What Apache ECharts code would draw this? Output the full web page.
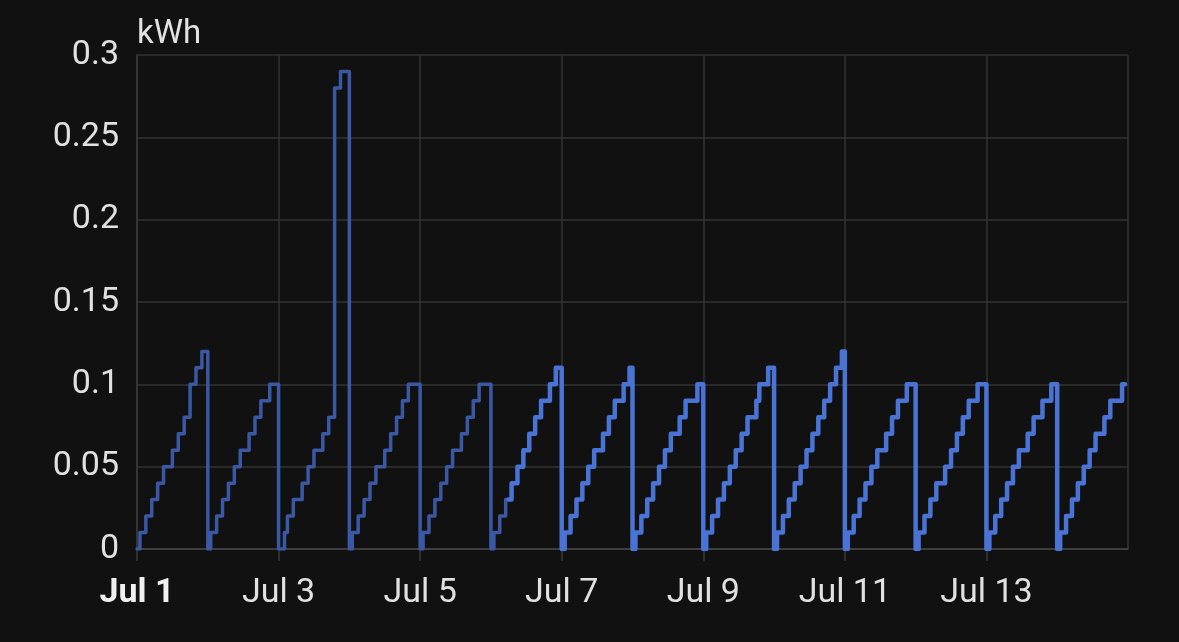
<!DOCTYPE html>
<html>
<head>
<meta charset="utf-8">
<script src="https://cdn.jsdelivr.net/npm/echarts@6/dist/echarts.min.js"></script>
<style>
  html, body { margin: 0; padding: 0; background: #111111; }
  #chart { width: 1179px; height: 642px; }
</style>
</head>
<body>
<div id="chart"></div>
<script>
// hourly cumulative energy per day (kWh), hour 0..23
var jul01 = [0, .01, .01, .02, .02, .03, .03, .04, .04, .05, .05, .05, .06, .06, .07, .07, .08, .08, .10, .10, .11, .11, .12, .12];
var jul02 = [0, .01, .01, .02, .02, .03, .03, .04, .04, .05, .05, .06, .06, .06, .07, .07, .08, .08, .09, .09, .09, .10, .10, .10];
var jul03 = [0, 0, .01, .02, .02, .03, .03, .03, .04, .04, .05, .05, .06, .06, .06, .07, .07, .08, .08, .28, .28, .29, .29, .29];
var jul04 = [0, .01, .01, .02, .02, .03, .03, .04, .04, .05, .05, .05, .06, .06, .07, .07, .08, .08, .09, .09, .10, .10, .10, .10];
var jul05 = [0, .01, .01, .02, .02, .03, .03, .04, .04, .05, .05, .06, .06, .06, .07, .07, .08, .08, .09, .09, .10, .10, .10, .10];
var jul06 = [0, .01, .01, .02, .02, .03, .03, .04, .04, .05, .05, .06, .06, .07, .07, .08, .08, .09, .09, .09, .10, .10, .11, .11];
var jul07 = [0, .01, .01, .02, .02, .03, .03, .04, .04, .05, .05, .06, .06, .06, .07, .07, .08, .08, .09, .09, .09, .10, .10, .11];
var jul08 = [0, .01, .01, .02, .02, .03, .03, .04, .04, .05, .05, .06, .06, .07, .07, .07, .08, .08, .09, .09, .09, .09, .10, .10];
var jul09 = [0, .01, .01, .02, .02, .03, .03, .04, .04, .05, .05, .06, .06, .07, .07, .08, .08, .08, .09, .10, .10, .10, .11, .11];
var jul10 = [0, .01, .01, .02, .02, .03, .03, .04, .04, .05, .05, .06, .06, .07, .07, .08, .08, .09, .09, .10, .10, .11, .11, .12];
var jul11 = [0, .01, .01, .02, .02, .03, .03, .04, .04, .05, .05, .06, .06, .06, .07, .07, .08, .08, .09, .09, .09, .10, .10, .10];
var jul12 = [0, .01, .01, .02, .02, .03, .03, .04, .04, .04, .05, .05, .06, .06, .07, .07, .08, .08, .09, .09, .09, .10, .10, .10];
var jul13 = [0, .01, .01, .02, .02, .03, .03, .04, .04, .05, .05, .06, .06, .06, .07, .07, .08, .08, .08, .09, .09, .09, .10, .10];
var jul14 = [0, .01, .01, .02, .02, .03, .03, .04, .04, .05, .05, .06, .06, .07, .07, .07, .08, .08, .09, .09, .09, .09, .10, .10];

var days = [jul01, jul02, jul03, jul04, jul05, jul06, jul07, jul08, jul09, jul10, jul11, jul12, jul13, jul14];
var yTicks = [0, 0.05, 0.1, 0.15, 0.2, 0.25, 0.3];

var HOUR = 3600 * 1000;
var DAY = 24 * HOUR;
var start = Date.UTC(2024, 6, 1);
// older part of the history is drawn dimmer (up to Jul 6, 06:00)
var splitAt = start + 5 * DAY + 6 * HOUR;

var oldPts = [], newPts = [];
days.forEach(function (vals, d) {
    vals.forEach(function (v, h) {
        var t = start + d * DAY + h * HOUR;
        if (t <= splitAt) oldPts.push([t, v]);
        if (t >= splitAt) newPts.push([t, v]);
    });
});

var months = ['Jan', 'Feb', 'Mar', 'Apr', 'May', 'Jun', 'Jul', 'Aug', 'Sep', 'Oct', 'Nov', 'Dec'];
var fontFamily = 'Roboto, "Noto Sans", sans-serif';

var chart = echarts.init(document.getElementById('chart'));
chart.setOption({
    backgroundColor: '#111111',
    animation: false,
    grid: { left: 137, right: 51, top: 55, bottom: 93 },
    xAxis: {
        type: 'value',
        min: start,
        max: start + 14 * DAY,
        interval: 2 * DAY,
        axisLine: { lineStyle: { color: '#474747', width: 1.5 } },
        axisTick: { show: true, length: 12, lineStyle: { color: '#3a3a3a', width: 1.5 } },
        splitLine: { show: true, lineStyle: { color: '#333333', width: 1.5 } },
        axisLabel: {
            showMaxLabel: false,
            margin: 27,
            fontSize: 34,
            fontFamily: fontFamily,
            color: '#e1e1e1',
            formatter: function (val) {
                var dt = new Date(val);
                var s = months[dt.getUTCMonth()] + ' ' + dt.getUTCDate();
                return dt.getUTCDate() === 1 ? '{b|' + s + '}' : s;
            },
            rich: {
                b: { fontSize: 34, fontWeight: 'bold', color: '#f0f0f0', fontFamily: fontFamily }
            }
        }
    },
    yAxis: {
        type: 'value',
        min: yTicks[0],
        max: yTicks[yTicks.length - 1],
        interval: 0.05,
        name: 'kWh',
        nameLocation: 'end',
        nameGap: 4,
        nameTextStyle: { align: 'left', fontSize: 33, fontFamily: fontFamily, color: '#e1e1e1' },
        axisLine: { show: true, lineStyle: { color: '#3a3a3a', width: 1.5 } },
        axisTick: { show: false },
        splitLine: { show: true, lineStyle: { color: '#333333', width: 1.5 } },
        axisLabel: { margin: 18, fontSize: 34, fontFamily: fontFamily, color: '#e1e1e1' }
    },
    series: [
        {
            type: 'line',
            step: 'end',
            data: oldPts,
            showSymbol: false,
            lineStyle: { color: '#3a58a3', width: 3.5, join: 'round', cap: 'round' },
            itemStyle: { color: '#3a58a3' }
        },
        {
            type: 'line',
            step: 'end',
            data: newPts,
            showSymbol: false,
            lineStyle: { color: '#4a73d6', width: 4.5, join: 'round', cap: 'round' },
            itemStyle: { color: '#4a73d6' }
        }
    ]
});
</script>
</body>
</html>
